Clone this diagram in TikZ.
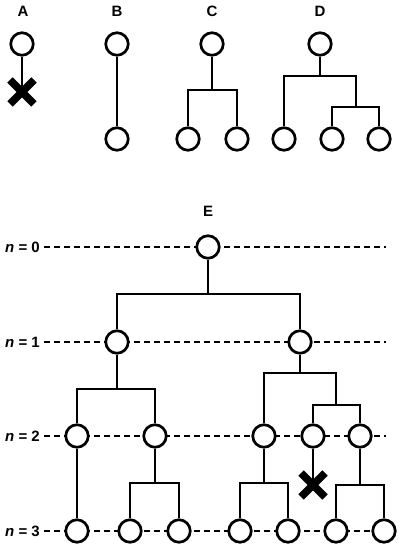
\documentclass[tikz,border=0pt]{standalone}
\usepackage{fontspec}
\setmainfont{Liberation Sans}
\usetikzlibrary{calc}
\begin{document}
\begin{tikzpicture}[x=1pt,y=-1pt,
  cell/.style={circle,draw,line width=2.7pt,fill=white,minimum size=22.5pt,inner sep=0pt},
  link/.style={line width=2.7pt},
  lvl/.style={line width=1.2pt,dash pattern=on 6pt off 4pt},
  lbl/.style={font=\bfseries\fontsize{15}{17}\selectfont},
  nlbl/.style={font=\bfseries\fontsize{15}{17}\selectfont,anchor=east,inner sep=0pt},
  kill/.style={line width=7.5pt}]
\useasboundingbox (0,0) rectangle (400,553);
% top labels
\node[lbl] (la) at (23,11) {A};
\node[lbl] (lb) at (117,11) {B};
\node[lbl] (lc) at (212,11) {C};
\node[lbl] (ld) at (320,11) {D};
\node[lbl] (le) at (208,211) {E};
% A
\node[cell] (A0) at (22,44) {};
\coordinate (AX) at (22,92);
\draw[link] (A0) -- (AX);
\draw[kill] ($(AX)+(-12,-12)$) -- ($(AX)+(12,12)$);
\draw[kill] ($(AX)+(-12,12)$) -- ($(AX)+(12,-12)$);
% B
\node[cell] (B0) at (117,44) {};
\node[cell] (B1) at (117,139) {};
\draw[link] (B0) -- (B1);
% C
\node[cell] (C0) at (212,44) {};
\node[cell] (C1) at (188,139) {};
\node[cell] (C2) at (237,139) {};
\coordinate (cb) at (212,90);
\draw[link] (C0) -- (cb);
\draw[link] (C1) |- (cb) -| (C2);
% D
\node[cell] (D0) at (320,44) {};
\node[cell] (D1) at (284,139) {};
\node[cell] (D2) at (332,139) {};
\node[cell] (D3) at (379,139) {};
\coordinate (db1) at (320,76);
\coordinate (db2) at (356,107);
\draw[link] (D0) -- (db1);
\draw[link] (D1) |- (db1) -| (db2);
\draw[link] (D2) |- (db2) -| (D3);
% E levels
\node[nlbl] (n0) at (40,247) {\textit{n} = 0};
\node[nlbl] (n1) at (40,342) {\textit{n} = 1};
\node[nlbl] (n2) at (40,436) {\textit{n} = 2};
\node[nlbl] (n3) at (40,531) {\textit{n} = 3};
\coordinate (e0) at (386,247);
\coordinate (e1) at (386,342);
\coordinate (e2) at (386,436);
\coordinate (e3) at (384,531);
\draw[lvl] ([xshift=4pt]n0.east) -- (e0);
\draw[lvl] ([xshift=4pt]n1.east) -- (e1);
\draw[lvl] ([xshift=4pt]n2.east) -- (e2);
\draw[lvl] ([xshift=4pt]n3.east) -- (e3);
% E tree nodes
\node[cell] (E0) at (208,247) {};
\node[cell] (E1a) at (117,342) {};
\node[cell] (E1b) at (300,342) {};
\node[cell] (E2a) at (77,436) {};
\node[cell] (E2b) at (155,436) {};
\node[cell] (E2c) at (264,436) {};
\node[cell] (E2d) at (313,436) {};
\node[cell] (E2e) at (360,436) {};
\node[cell] (E3a) at (77,531) {};
\node[cell] (E3b) at (130,531) {};
\node[cell] (E3c) at (179,531) {};
\node[cell] (E3d) at (240,531) {};
\node[cell] (E3e) at (288,531) {};
\node[cell] (E3f) at (336,531) {};
\node[cell] (E3g) at (384,531) {};
\coordinate (eb0) at (208,294);
\coordinate (eb1) at (117,389);
\coordinate (eb2) at (300,373);
\coordinate (eb3) at (336,405);
\coordinate (eb4) at (155,483);
\coordinate (eb5) at (264,483);
\coordinate (eb6) at (360,485);
\coordinate (EX) at (313,485);
\draw[link] (E0) -- (eb0);
\draw[link] (E1a) |- (eb0) -| (E1b);
\draw[link] (E1a) -- (eb1);
\draw[link] (E2a) |- (eb1) -| (E2b);
\draw[link] (E1b) -- (eb2);
\draw[link] (E2c) |- (eb2) -| (eb3);
\draw[link] (E2d) |- (eb3) -| (E2e);
\draw[link] (E2a) -- (E3a);
\draw[link] (E2b) -- (eb4);
\draw[link] (E3b) |- (eb4) -| (E3c);
\draw[link] (E2c) -- (eb5);
\draw[link] (E3d) |- (eb5) -| (E3e);
\draw[link] (E2e) -- (eb6);
\draw[link] (E3f) |- (eb6) -| (E3g);
\draw[link] (E2d) -- (EX);
\draw[kill] ($(EX)+(-12,-12)$) -- ($(EX)+(12,12)$);
\draw[kill] ($(EX)+(-12,12)$) -- ($(EX)+(12,-12)$);
\end{tikzpicture}
\end{document}
